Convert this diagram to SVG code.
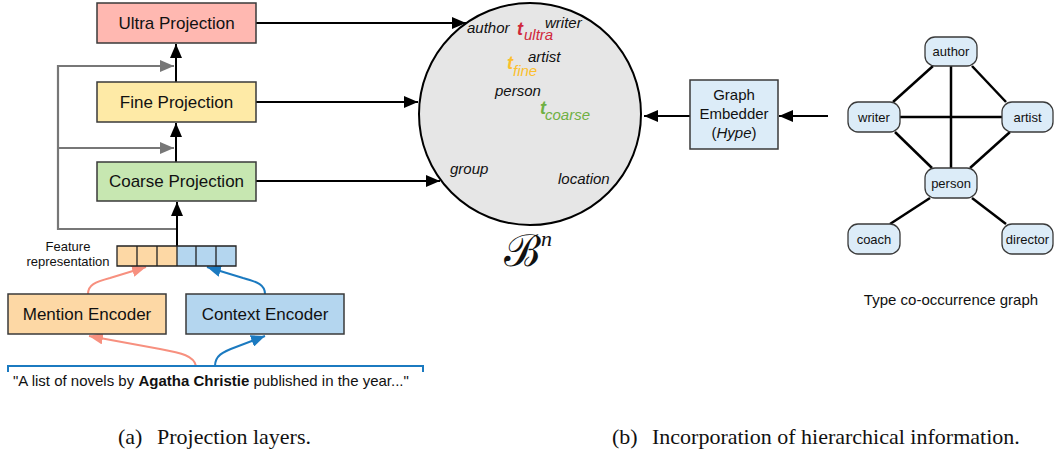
<svg xmlns="http://www.w3.org/2000/svg" width="1054" height="452" viewBox="0 0 1054 452">
<style>
.box{stroke:#3a3a3a;stroke-width:1.5}
.lbl{font-family:"Liberation Sans",Arial,sans-serif;font-size:17px;fill:#111;text-anchor:middle}
.small{font-family:"Liberation Sans",Arial,sans-serif;font-size:13px;fill:#111;text-anchor:middle}
.it{font-family:"Liberation Sans",Arial,sans-serif;font-size:15px;font-style:italic;fill:#111}
.t{font-family:"Liberation Sans",Arial,sans-serif;font-size:18px;font-style:italic;font-weight:bold}
.cap{font-family:"Liberation Serif","Times New Roman",serif;font-size:22px;fill:#111}
.blk{stroke:#000;stroke-width:2;fill:none}
.gry{stroke:#777;stroke-width:2.2;fill:none}
.pnk{stroke:#f7907f;stroke-width:2;fill:none}
.blu{stroke:#1b7ac0;stroke-width:2;fill:none}
.edge{stroke:#000;stroke-width:2.5}
.gnode{fill:#dcecf8;stroke:#3a3a3a;stroke-width:1.3}
</style>
<defs>
<marker id="ab" markerUnits="userSpaceOnUse" markerWidth="16" markerHeight="12" refX="14" refY="6" orient="auto"><path d="M0,0 L14,6 L0,12 z" fill="#000"/></marker>
<marker id="ag" markerUnits="userSpaceOnUse" markerWidth="16" markerHeight="12" refX="14" refY="6" orient="auto"><path d="M0,0 L14,6 L0,12 z" fill="#777"/></marker>
<marker id="ap" markerUnits="userSpaceOnUse" markerWidth="16" markerHeight="12" refX="14" refY="6" orient="auto"><path d="M0,0 L14,6 L0,12 z" fill="#f7907f"/></marker>
<marker id="al" markerUnits="userSpaceOnUse" markerWidth="16" markerHeight="12" refX="14" refY="6" orient="auto"><path d="M0,0 L14,6 L0,12 z" fill="#1b7ac0"/></marker>
</defs>

<g id="connectors">
  <path class="gry" d="M176,229 L58,229 L58,66 L174,66" marker-end="url(#ag)"/>
  <path class="gry" d="M58,148 L174,148" marker-end="url(#ag)"/>
  <path class="blk" d="M177,246 L177,202" marker-end="url(#ab)"/>
  <path class="blk" d="M176,162 L176,123" marker-end="url(#ab)"/>
  <path class="blk" d="M176,82 L176,44" marker-end="url(#ab)"/>
  <path class="blk" d="M256,23 L466,23" marker-end="url(#ab)"/>
  <path class="blk" d="M256,102 L418,102" marker-end="url(#ab)"/>
  <path class="blk" d="M256,181 L440,181" marker-end="url(#ab)"/>
  <path class="blk" d="M828,116 L779,116" marker-end="url(#ab)"/>
  <path class="blk" d="M690,116 L644,116" marker-end="url(#ab)"/>
  <path class="pnk" d="M88,294 C88,285 95,282 110,278 L146,267" marker-end="url(#ap)"/>
  <path class="blu" d="M265,294 C265,285 258,282 243,278 L207,267" marker-end="url(#al)"/>
  <path class="pnk" d="M196,366 C194,356 182,353 160,349 L89,336" marker-end="url(#ap)"/>
  <path class="blu" d="M215,366 C215,356 222,352 236,347 L265,336" marker-end="url(#al)"/>
  <path d="M8,372 L8,366 L423,366 L423,372" stroke="#1b7ac0" stroke-width="2" fill="none"/>
  <line class="edge" x1="933" y1="66" x2="893" y2="102"/>
  <line class="edge" x1="972" y1="66" x2="1006" y2="102"/>
  <line class="edge" x1="951" y1="66" x2="951" y2="168"/>
  <line class="edge" x1="900" y1="117" x2="1002" y2="117"/>
  <line class="edge" x1="895" y1="132" x2="932" y2="168"/>
  <line class="edge" x1="1010" y1="132" x2="970" y2="168"/>
  <line class="edge" x1="930" y1="198" x2="890" y2="224"/>
  <line class="edge" x1="972" y1="198" x2="1006" y2="224"/>
</g>

<g id="ultra">
  <rect class="box" x="97" y="3" width="159" height="40" fill="#ffb8b1"/>
  <text class="lbl" x="176.5" y="29">Ultra Projection</text>
</g>
<g id="fine">
  <rect class="box" x="97" y="82" width="159" height="40" fill="#feeaa6"/>
  <text class="lbl" x="176.5" y="108">Fine Projection</text>
</g>
<g id="coarse">
  <rect class="box" x="97" y="162" width="159" height="39" fill="#c7e7b1"/>
  <text class="lbl" x="176.5" y="187">Coarse Projection</text>
</g>

<g id="feature">
  <rect x="117" y="246" width="60" height="20" fill="#fdd8a5"/>
  <rect x="177" y="246" width="59" height="20" fill="#b4d6ef"/>
  <path d="M117,246 H236 V266 H117 Z M137,246 V266 M157,246 V266 M177,246 V266 M196,246 V266 M216,246 V266" stroke="#222" stroke-width="1.3" fill="none"/>
  <text class="small" x="68" y="251">Feature</text>
  <text class="small" x="68" y="266">representation</text>
</g>

<g id="mention">
  <rect class="box" x="8" y="294" width="158" height="40" fill="#fdd8a5"/>
  <text class="lbl" x="87" y="320">Mention Encoder</text>
</g>
<g id="context">
  <rect class="box" x="186" y="294" width="158" height="40" fill="#b4d6ef"/>
  <text class="lbl" x="265" y="320">Context Encoder</text>
</g>

<g id="sentence">
  <text x="13" y="386" font-family="'Liberation Sans',Arial,sans-serif" font-size="15" fill="#111">"A list of novels by <tspan font-weight="bold">Agatha Christie</tspan> published in the year..."</text>
</g>

<g id="space">
  <circle cx="530" cy="114" r="111" fill="#e6e6e6" stroke="#000" stroke-width="2"/>
  <text class="it" x="467" y="33">author</text>
  <text class="it" x="545" y="28">writer</text>
  <text class="t" x="517" y="35" fill="#d0283c">t<tspan font-size="15" font-weight="normal" dx="1" dy="5">ultra</tspan></text>
  <text class="it" x="528" y="62">artist</text>
  <text class="t" x="507" y="69" fill="#fbbf2d">t<tspan font-size="15" font-weight="normal" dx="0" dy="7">fine</tspan></text>
  <text class="it" x="495" y="96">person</text>
  <text class="t" x="540" y="114" fill="#6fb043">t<tspan font-size="15" font-weight="normal" dx="-1" dy="6">coarse</tspan></text>
  <text class="it" x="450" y="174">group</text>
  <text class="it" x="558" y="184">location</text>
  <text x="504" y="266" font-family="'DejaVu Serif',serif" font-size="44" fill="#111">ℬ<tspan font-family="'Liberation Serif',serif" font-style="italic" font-size="22" dy="-20">n</tspan></text>
</g>

<g id="embedder">
  <rect x="690" y="80" width="88" height="69" fill="#dcecf8" stroke="#3a3a3a" stroke-width="1.5"/>
  <text font-family="'Liberation Sans',Arial,sans-serif" font-size="15" fill="#111" text-anchor="middle"><tspan x="734" y="100">Graph</tspan><tspan x="734" y="119">Embedder</tspan><tspan x="734" y="138">(<tspan font-style="italic">Hype</tspan>)</tspan></text>
</g>

<g id="n-author"><rect class="gnode" x="925" y="37" width="52" height="29" rx="10"/><text class="small" x="951" y="56">author</text></g>
<g id="n-writer"><rect class="gnode" x="848" y="102" width="52" height="30" rx="10"/><text class="small" x="874" y="122">writer</text></g>
<g id="n-artist"><rect class="gnode" x="1002" y="102" width="51" height="30" rx="10"/><text class="small" x="1027.5" y="122">artist</text></g>
<g id="n-person"><rect class="gnode" x="925" y="168" width="52" height="30" rx="10"/><text class="small" x="951" y="188">person</text></g>
<g id="n-coach"><rect class="gnode" x="848" y="224" width="52" height="30" rx="10"/><text class="small" x="874" y="244">coach</text></g>
<g id="n-director"><rect class="gnode" x="1002" y="224" width="51" height="30" rx="10"/><text class="small" x="1027.5" y="244">director</text></g>

<text x="951" y="305" font-family="'Liberation Sans',Arial,sans-serif" font-size="15" fill="#111" text-anchor="middle">Type co-occurrence graph</text>

<text class="cap" x="118" y="444">(a)<tspan x="157">Projection layers.</tspan></text>
<text class="cap" x="612" y="444">(b)<tspan x="652">Incorporation of hierarchical information.</tspan></text>
</svg>
